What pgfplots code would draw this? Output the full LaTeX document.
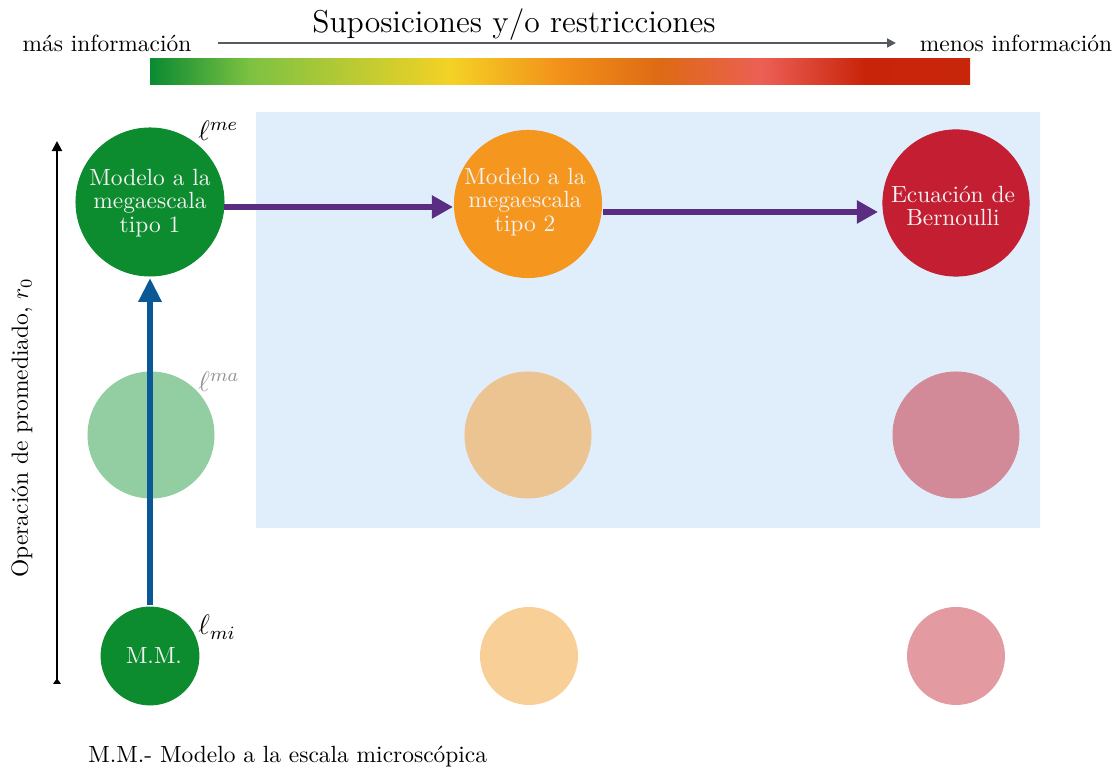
\documentclass[border=0pt]{standalone}
\usepackage{pgfplots}
\pgfplotsset{compat=1.18}
\usetikzlibrary{arrows.meta}

\definecolor{cgreen}{RGB}{13,140,47}
\definecolor{corange}{RGB}{245,150,30}
\definecolor{cred}{RGB}{196,30,50}
\definecolor{midgreen}{RGB}{147,205,162}
\definecolor{midorange}{RGB}{235,196,146}
\definecolor{midred}{RGB}{211,138,152}
\definecolor{botorange}{RGB}{249,207,152}
\definecolor{botred}{RGB}{227,154,160}
\definecolor{bgblue}{RGB}{224,238,251}
\definecolor{cblue}{RGB}{10,88,150}
\definecolor{cpurple}{RGB}{91,45,130}
\definecolor{cgray}{RGB}{85,90,96}
\definecolor{txtwhite}{RGB}{242,242,242}
% gradient stops
\definecolor{g0}{RGB}{10,138,50}
\definecolor{g1}{RGB}{125,194,66}
\definecolor{g2}{RGB}{244,210,37}
\definecolor{g3}{RGB}{243,146,26}
\definecolor{g4}{RGB}{222,106,20}
\definecolor{g5}{RGB}{236,95,85}
\definecolor{g6}{RGB}{200,36,10}
\definecolor{g7}{RGB}{200,38,10}

\begin{document}
\begin{tikzpicture}
\begin{axis}[width=16.785cm, height=11.565cm, scale only axis,
  xmin=0, xmax=1119, ymin=0, ymax=771, y dir=reverse,
  hide axis, clip=false, clip marker paths=true]
\coordinate (bl) at (axis cs:0,771);
\coordinate (tr) at (axis cs:1119,0);

% shaded region
\addplot[draw=none, fill=bgblue] coordinates {(256,112) (1040,112) (1040,528) (256,528) (256,112)};

% colour bar
\addplot[draw=none, left color=g0, right color=g1] coordinates {(150,59) (251,59) (251,85) (150,85) (150,59)};
\addplot[draw=none, left color=g1, right color=g2] coordinates {(250,59) (451,59) (451,85) (250,85) (250,59)};
\addplot[draw=none, left color=g2, right color=g3] coordinates {(450,59) (558,59) (558,85) (450,85) (450,59)};
\addplot[draw=none, left color=g3, right color=g4] coordinates {(557,59) (661,59) (661,85) (557,85) (557,59)};
\addplot[draw=none, left color=g4, right color=g5] coordinates {(660,59) (763,59) (763,85) (660,85) (660,59)};
\addplot[draw=none, left color=g5, right color=g6] coordinates {(762,59) (865,59) (865,85) (762,85) (762,59)};
\addplot[draw=none, left color=g6, right color=g7] coordinates {(864,59) (970,59) (970,85) (864,85) (864,59)};

% top arrow
\addplot[cgray, line width=0.85pt, -{Triangle[length=3.8pt,width=3.8pt]}] coordinates {(218,43) (896,43)};

% circles
\addplot[only marks, mark=*, mark size=31.6pt, color=cgreen] coordinates {(150,202)};
\addplot[only marks, mark=*, mark size=31.4pt, color=corange] coordinates {(528,204)};
\addplot[only marks, mark=*, mark size=31.2pt, color=cred] coordinates {(956,203)};
\addplot[only marks, mark=*, mark size=26.9pt, color=midgreen] coordinates {(151,435)};
\addplot[only marks, mark=*, mark size=26.9pt, color=midorange] coordinates {(528,435)};
\addplot[only marks, mark=*, mark size=26.9pt, color=midred] coordinates {(956,435)};
\addplot[only marks, mark=*, mark size=20.9pt, color=cgreen] coordinates {(150,656)};
\addplot[only marks, mark=*, mark size=20.7pt, color=botorange] coordinates {(529,656)};
\addplot[only marks, mark=*, mark size=20.7pt, color=botred] coordinates {(956,656)};

% arrows between models
\addplot[cblue, line width=2.55pt, -{Triangle[length=10.2pt,width=9.4pt]}] coordinates {(150,605) (150,278)};
\addplot[cpurple, line width=2.55pt, -{Triangle[length=9pt,width=9.4pt]}] coordinates {(224,207) (453,207)};
\addplot[cpurple, line width=2.55pt, -{Triangle[length=9pt,width=9.4pt]}] coordinates {(603,212) (878,212)};

% vertical axis arrow
\addplot[black, line width=0.85pt, {Triangle[reversed,length=2.5pt,width=3.2pt]}-{Triangle[length=4.3pt,width=4.3pt]}] coordinates {(57,684) (57,141)};

% texts
\node[anchor=base, font=\fontsize{13.5}{16}\selectfont] at (axis cs:514,33) {Suposiciones y/o restricciones};
\node[anchor=base, inner sep=0pt] at (axis cs:107,52) {más información};
\node[anchor=base, inner sep=0pt] at (axis cs:1016,52) {menos información};
\node[rotate=90, inner sep=0pt] at (axis cs:22,428) {Operación de promediado, $r_0$};
\node[anchor=base west, inner sep=0pt] at (axis cs:88,763) {M.M.- Modelo a la escala microscópica};

\node[text=txtwhite, align=center, inner sep=0pt, font=\fontsize{10}{10}\selectfont] at (axis cs:150,203) {Modelo a la\\megaescala\\tipo 1};
\node[text=txtwhite, align=center, inner sep=0pt, font=\fontsize{10}{10}\selectfont] at (axis cs:525,202) {Modelo a la\\megaescala\\tipo 2};
\node[text=txtwhite, align=center, inner sep=0pt, font=\fontsize{10}{10}\selectfont] at (axis cs:953,206) {Ecuación de\\Bernoulli};
\node[text=txtwhite, inner sep=0pt] at (axis cs:154,656) {M.M.};

\node[anchor=base west, inner sep=0pt, font=\fontsize{12}{14}\selectfont] at (axis cs:198,141) {$\ell^{me}$};
\node[anchor=base west, inner sep=0pt, font=\fontsize{12}{14}\selectfont, text=black!42] at (axis cs:198,392) {$\ell^{ma}$};
\node[anchor=base west, inner sep=0pt, font=\fontsize{12}{14}\selectfont] at (axis cs:198,635) {$\ell_{mi}$};
\end{axis}
\pgfresetboundingbox
\path (bl) rectangle (tr);
\end{tikzpicture}
\end{document}
